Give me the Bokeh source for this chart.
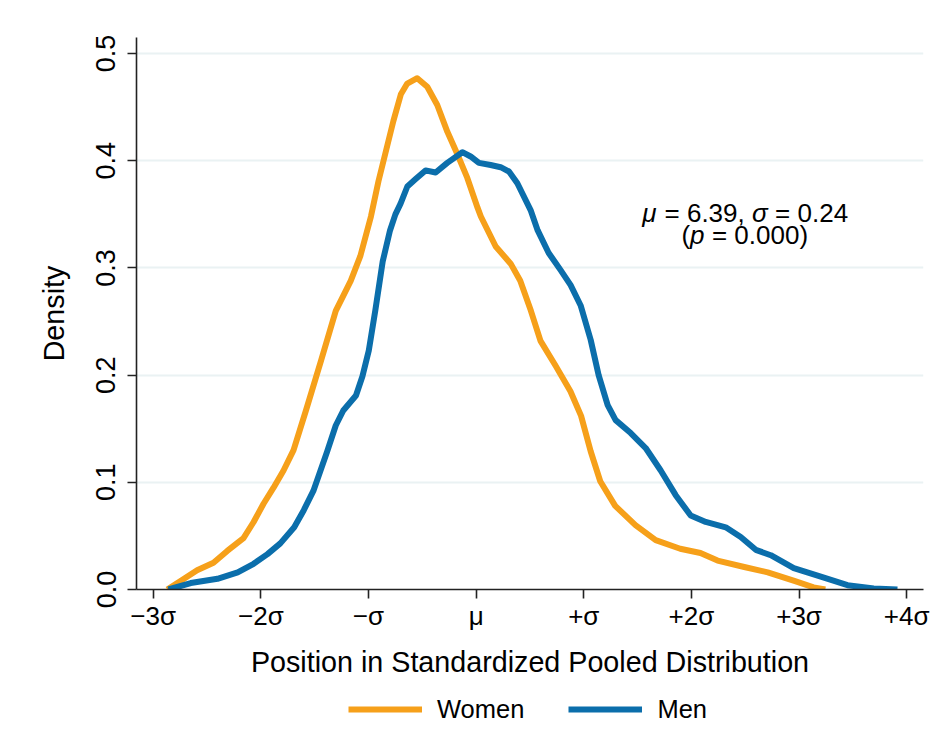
from bokeh.plotting import figure
from bokeh.layouts import column
from bokeh.models import Range1d, FixedTicker, Legend, LegendItem, Label
from bokeh.embed import file_html
from bokeh.resources import INLINE

# ---- data ----
x_women = [-2.869, -2.746, -2.592, -2.440, -2.312, -2.161, -2.067, -1.975, -1.882, -1.789,
           -1.696, -1.581, -1.442, -1.304, -1.165, -1.076, -0.977, -0.907, -0.769, -0.699,
           -0.640, -0.547, -0.454, -0.361, -0.267, -0.174, -0.082, 0.014, 0.044, 0.182,
           0.321, 0.410, 0.509, 0.598, 0.737, 0.876, 0.975, 1.064, 1.153, 1.292, 1.480,
           1.668, 1.896, 2.084, 2.243, 2.491, 2.709, 2.956, 3.135, 3.244]
y_women = [0.000, 0.008, 0.018, 0.025, 0.036, 0.048, 0.063, 0.080, 0.095, 0.111,
           0.130, 0.167, 0.213, 0.260, 0.288, 0.311, 0.348, 0.381, 0.437, 0.462,
           0.472, 0.477, 0.469, 0.452, 0.427, 0.406, 0.384, 0.356, 0.348, 0.320,
           0.304, 0.288, 0.260, 0.232, 0.209, 0.185, 0.162, 0.129, 0.101, 0.078, 0.060,
           0.046, 0.038, 0.034, 0.027, 0.021, 0.016, 0.008, 0.002, 0.000]

x_men = [-2.859, -2.651, -2.403, -2.215, -2.067, -1.938, -1.819, -1.690, -1.601, -1.512,
         -1.383, -1.304, -1.234, -1.116, -1.056, -0.997, -0.937, -0.868, -0.800, -0.750,
         -0.702, -0.639, -0.562, -0.470, -0.376, -0.268, -0.128, -0.051, 0.026, 0.135,
         0.228, 0.305, 0.383, 0.506, 0.572, 0.674, 0.785, 0.878, 0.971, 1.064, 1.138,
         1.222, 1.296, 1.436, 1.575, 1.715, 1.854, 1.993, 2.133, 2.319, 2.458, 2.598,
         2.737, 2.951, 3.202, 3.450, 3.694, 3.914]
y_men = [0.000, 0.006, 0.010, 0.016, 0.024, 0.033, 0.043, 0.058, 0.074, 0.092,
         0.129, 0.153, 0.167, 0.181, 0.199, 0.223, 0.260, 0.306, 0.335, 0.350,
         0.360, 0.376, 0.383, 0.391, 0.389, 0.398, 0.408, 0.404, 0.398, 0.396,
         0.394, 0.390, 0.379, 0.354, 0.335, 0.314, 0.298, 0.284, 0.265, 0.233, 0.200,
         0.172, 0.158, 0.146, 0.132, 0.111, 0.088, 0.069, 0.063, 0.058, 0.049, 0.037,
         0.032, 0.020, 0.012, 0.004, 0.001, 0.000]

x_ticks = [-3, -2, -1, 0, 1, 2, 3, 4]
x_tick_labels = ["\u22123\u03c3", "\u22122\u03c3", "\u2212\u03c3", "\u03bc",
                 "+\u03c3", "+2\u03c3", "+3\u03c3", "+4\u03c3"]
y_ticks = [0.0, 0.1, 0.2, 0.3, 0.4, 0.5]
y_tick_labels = ["0.0", "0.1", "0.2", "0.3", "0.4", "0.5"]

series_names = ["Women", "Men"]
colors = ["#F6A01A", "#0B6EAB"]

FONT = "Liberation Sans"
LW = 6

p = figure(width=930, height=690, output_backend="svg", toolbar_location=None,
           x_range=Range1d(-3.155, 4.156), y_range=Range1d(0, 0.515),
           min_border_left=136, min_border_right=7, min_border_top=37,
           min_border_bottom=101)
p.outline_line_color = None
p.background_fill_color = "white"
p.border_fill_color = "white"

p.xgrid.visible = False
p.ygrid.ticker = FixedTicker(ticks=y_ticks[1:])
p.ygrid.grid_line_color = "#EAF2F3"
p.ygrid.grid_line_width = 2

p.line(x_women, y_women, line_color=colors[0], line_width=LW, line_join="round")
p.line(x_men, y_men, line_color=colors[1], line_width=LW, line_join="round")

for ax in (p.xaxis[0], p.yaxis[0]):
    ax.axis_line_color = "#222222"
    ax.axis_line_width = 1.6
    ax.major_tick_line_color = "#222222"
    ax.major_tick_line_width = 1.6
    ax.major_tick_out = 9
    ax.major_tick_in = 0
    ax.minor_tick_line_color = None
    ax.major_label_text_font = FONT
    ax.major_label_text_color = "black"
    ax.axis_label_text_font = FONT
    ax.axis_label_text_font_size = "28.7px"
    ax.axis_label_text_font_style = "normal"
    ax.axis_label_text_color = "black"

p.xaxis.ticker = FixedTicker(ticks=x_ticks)
p.xaxis.major_label_overrides = {t: l for t, l in zip(x_ticks, x_tick_labels)}
p.xaxis.major_label_text_font_size = "26px"
p.xaxis.axis_label = "Position in Standardized Pooled Distribution"
p.xaxis.major_label_standoff = 2
p.xaxis.axis_label_standoff = 12

p.yaxis.ticker = FixedTicker(ticks=y_ticks)
p.yaxis.major_label_overrides = {t: l for t, l in zip(y_ticks, y_tick_labels)}
p.yaxis.major_label_text_font_size = "27px"
p.yaxis.major_label_orientation = "vertical"
p.yaxis.axis_label = "Density"
p.yaxis.major_label_standoff = 12
p.yaxis.axis_label_standoff = 24

# annotation, in pieces so that mu, sigma and p are italic
ann_size = "26px"
x_line1 = 1.543
y_line1 = 0.351
pieces1 = [("\u03bc", "italic", 0.0), ("= 6.39,", "normal", 22.3),
           ("\u03c3", "italic", 109.7), ("= 0.24", "normal", 132.9)]
for txt, style, off in pieces1:
    p.add_layout(Label(x=x_line1, y=y_line1, x_offset=off, text=txt, text_font=FONT,
                       text_font_size=ann_size, text_font_style=style,
                       text_align="left", text_baseline="alphabetic", text_color="black"))
x_line2 = 1.908
y_line2 = 0.331
pieces2 = [("(", "normal", 0.0), ("p", "italic", 8.6), ("= 0.000)", "normal", 30.4)]
for txt, style, off in pieces2:
    p.add_layout(Label(x=x_line2, y=y_line2, x_offset=off, text=txt, text_font=FONT,
                       text_font_size=ann_size, text_font_style=style,
                       text_align="left", text_baseline="alphabetic", text_color="black"))

# legend strip under the chart (renderers hold a single NaN point, nothing visible)
nan = float("nan")
pl = figure(width=930, height=52, output_backend="svg", toolbar_location=None,
            x_range=Range1d(0, 1), y_range=Range1d(0, 1),
            x_axis_location=None, y_axis_location=None, min_border=0)
pl.outline_line_color = None
pl.grid.visible = False
lw_r = pl.line([nan], [nan], line_color=colors[0], line_width=LW)
lm_r = pl.line([nan], [nan], line_color=colors[1], line_width=LW)
legend = Legend(items=[LegendItem(label=series_names[0], renderers=[lw_r]),
                       LegendItem(label=series_names[1], renderers=[lm_r])],
                orientation="horizontal", location=(212, 18),
                glyph_width=74, glyph_height=30, label_standoff=15, spacing=44,
                padding=0, margin=0, border_line_color=None,
                background_fill_alpha=0,
                label_text_font=FONT, label_text_font_size="25.5px",
                label_text_color="black")
pl.add_layout(legend, "center")

layout = column(p, pl, spacing=0)
open("out.html", "w").write(file_html(layout, INLINE))
